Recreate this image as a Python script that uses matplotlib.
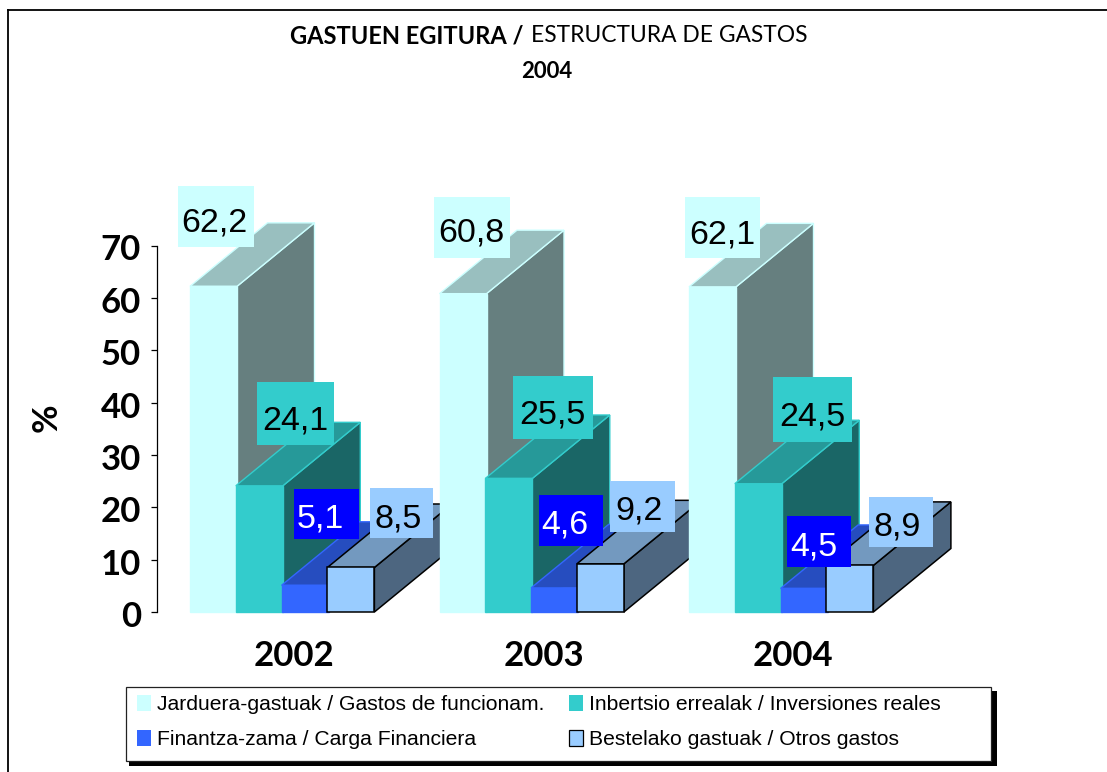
"""Recreates the GASTUEN EGITURA 3D column chart with matplotlib."""

import matplotlib

matplotlib.use("Agg")

import matplotlib.pyplot as plt
from matplotlib.lines import Line2D
from matplotlib.patches import Patch, Polygon, Rectangle
from matplotlib.transforms import IdentityTransform, ScaledTranslation

# -----------------------------
# 1. Chart data
# -----------------------------

YEARS = ["2002", "2003", "2004"]
SERIES_NAMES = [
    "Jarduera-gastuak / Gastos de funcionam.",
    "Inbertsio errealak / Inversiones reales",
    "Finantza-zama / Carga Financiera",
    "Bestelako gastuak / Otros gastos",
]
FUNCIONAMIENTO = [62.2, 60.8, 62.1]
INVERSIONES = [24.1, 25.5, 24.5]
FINANCIERA = [5.1, 4.6, 4.5]
OTROS = [8.5, 9.2, 8.9]
Y_TICKS = [0, 10, 20, 30, 40, 50, 60, 70]

# -----------------------------
# 2. Layout and colours
# -----------------------------

WIDTH, HEIGHT = 1107, 772

# Pixel layout of the plot area (y measured from the top of the image).
AXIS_LEFT, AXIS_RIGHT = 157, 1000
AXIS_BOTTOM, AXIS_TOP = 612, 245.5
FIRST_GROUP_PX = 294
GROUP_STEP_PX = 249.5
BAR_START_PX = -104
BAR_STEP_PX = 45.8
BAR_WIDTH_PX = 47
DEPTH_X_PX = 77.5
DEPTH_Y_PX = 63.5

# front, top, side, edge, edge width
SERIES_STYLES = [
    ("#CCFFFF", "#99BFBF", "#667F7F", "#CCFFFF", 1.0),
    ("#33CCCC", "#269999", "#1A6666", "#33CCCC", 1.0),
    ("#3366FF", "#264DBF", "#1A3380", "#3366FF", 1.0),
    ("#99CCFF", "#7399BF", "#4D6680", "#000000", 1.1),
]

# Value label boxes in pixels: left, top, right, bottom, text centre x, digit centre y.
LABEL_BOXES = [
    [(178, 186, 254, 247, 214, 220), (434, 197, 510, 258, 471, 230), (685, 197, 760, 258, 722, 231)],
    [(257, 382, 334, 445, 295, 417), (513, 376, 593, 439, 552, 412), (773, 377, 852, 442, 812, 413)],
    [(294, 489, 359, 539, 320, 515), (539, 495, 603, 546, 565, 522), (787, 516, 851, 567, 814, 543)],
    [(370, 488, 433, 538, 398, 515), (610, 481, 675, 532, 639, 508), (869, 497, 933, 547, 897, 523)],
]
LABEL_COLORS = [
    ("#CCFFFF", "black"),
    ("#33CCCC", "black"),
    ("#0000FF", "white"),
    ("#99CCFF", "black"),
]

HEADING_FONT = "Lato"
BODY_FONT = "Liberation Sans"


def px_rect(ax, left, top, right, bottom, zorder, **style):
    """Add a rectangle given in image pixels."""
    rect = Rectangle(
        (left, HEIGHT - bottom), right - left, bottom - top,
        transform=IdentityTransform(), clip_on=False, zorder=zorder, **style,
    )
    ax.add_patch(rect)


def draw_bar(ax, x0, width, value, depth_x, depth_y, style, zorder):
    """Draw one fake-3D column: side and top polygons, then the front bar."""
    front, top, side, edge, edge_width = style
    x1 = x0 + width

    side_points = [(x1, 0), (x1 + depth_x, depth_y), (x1 + depth_x, value + depth_y), (x1, value)]
    top_points = [(x0, value), (x1, value), (x1 + depth_x, value + depth_y), (x0 + depth_x, value + depth_y)]

    ax.add_patch(Polygon(side_points, facecolor=side, edgecolor=edge, linewidth=edge_width,
                         clip_on=False, zorder=zorder))
    ax.add_patch(Polygon(top_points, facecolor=top, edgecolor=edge, linewidth=edge_width,
                         clip_on=False, zorder=zorder))
    ax.bar(x0, value, width=width, align="edge", color=front, edgecolor=edge,
           linewidth=edge_width, clip_on=False, zorder=zorder)


def main() -> None:
    fig = plt.figure(figsize=(WIDTH / 100, HEIGHT / 100), dpi=100, facecolor="white")
    ax = fig.add_axes([
        AXIS_LEFT / WIDTH,
        1 - AXIS_BOTTOM / HEIGHT,
        (AXIS_RIGHT - AXIS_LEFT) / WIDTH,
        (AXIS_BOTTOM - AXIS_TOP) / HEIGHT,
    ])
    ax.patch.set_visible(False)

    x_min = (AXIS_LEFT - FIRST_GROUP_PX) / GROUP_STEP_PX
    x_max = (AXIS_RIGHT - FIRST_GROUP_PX) / GROUP_STEP_PX
    ax.set_xlim(x_min, x_max)
    ax.set_ylim(0, 70)

    px_per_value = (AXIS_BOTTOM - AXIS_TOP) / 70
    depth_x = DEPTH_X_PX / GROUP_STEP_PX
    depth_y = DEPTH_Y_PX / px_per_value

    # Painter's order: left to right, so each column covers the one before it.
    all_series = [FUNCIONAMIENTO, INVERSIONES, FINANCIERA, OTROS]
    zorder = 3
    for group in range(len(YEARS)):
        for s, values in enumerate(all_series):
            x0 = group + (BAR_START_PX + s * BAR_STEP_PX) / GROUP_STEP_PX
            draw_bar(ax, x0, BAR_WIDTH_PX / GROUP_STEP_PX, values[group],
                     depth_x, depth_y, SERIES_STYLES[s], zorder)
            zorder += 1

    # Value labels sit over every column.
    for s, values in enumerate(all_series):
        box_color, text_color = LABEL_COLORS[s]
        for group, value in enumerate(values):
            left, top, right, bottom, text_x, text_y = LABEL_BOXES[s][group]
            px_rect(ax, left, top, right, bottom, 30, facecolor=box_color, edgecolor="none")
            ax.text(text_x, HEIGHT - text_y - 12, f"{value:.1f}".replace(".", ","),
                    transform=IdentityTransform(), ha="center", va="baseline",
                    fontsize=24.5, family=BODY_FONT, color=text_color, zorder=31, clip_on=False)

    # Axes
    for name in ("top", "right", "bottom"):
        ax.spines[name].set_visible(False)
    ax.spines["left"].set_linewidth(0.9)
    ax.set_yticks(Y_TICKS)
    ax.set_xticks(range(len(YEARS)))
    ax.set_xticklabels(YEARS, fontsize=25, fontweight="bold", family=HEADING_FONT)
    ax.tick_params(axis="x", length=0, pad=20)
    ax.tick_params(axis="y", length=4, width=0.9, pad=7.5)
    # The reference tick numbers sit a little below their tick marks.
    nudge = ScaledTranslation(0, -2 / 100, fig.dpi_scale_trans)
    for label in ax.get_yticklabels():
        label.set_fontsize(25)
        label.set_fontweight("bold")
        label.set_family(HEADING_FONT)
        label.set_transform(label.get_transform() + nudge)

    ax.set_ylabel("%", fontsize=25, fontweight="bold", family=HEADING_FONT)
    ax.yaxis.set_label_coords((63 - AXIS_LEFT) / (AXIS_RIGHT - AXIS_LEFT),
                              (AXIS_BOTTOM - 418) / (AXIS_BOTTOM - AXIS_TOP))

    # Title
    fig.text(524 / WIDTH, 1 - 36 / HEIGHT, "GASTUEN EGITURA /", ha="right", va="center",
             fontsize=17, fontweight="bold", family=HEADING_FONT)
    fig.text(531 / WIDTH, 1 - 36 / HEIGHT, "ESTRUCTURA DE GASTOS", ha="left", va="center",
             fontsize=16.4, family=HEADING_FONT)
    fig.text(547 / WIDTH, 1 - 72 / HEIGHT, "2004", ha="center", va="center",
             fontsize=16, fontweight="bold", family=HEADING_FONT)

    # Outer frame, open at the right and bottom.
    fig.add_artist(Line2D([8 / WIDTH, 8 / WIDTH], [0, 1 - 10 / HEIGHT], color="black", linewidth=1.3))
    fig.add_artist(Line2D([8 / WIDTH, 1], [1 - 10 / HEIGHT, 1 - 10 / HEIGHT], color="black", linewidth=1.3))

    # Legend box with its hard shadow.
    px_rect(ax, 129, 691, 997, 766, 40, facecolor="black", edgecolor="none")
    px_rect(ax, 126, 687, 991, 761, 41, facecolor="white", edgecolor="#222222", linewidth=0.9)

    handles = []
    for name, style in zip(SERIES_NAMES, SERIES_STYLES):
        edge = "black" if style[3] == "#000000" else "none"
        handles.append(Patch(facecolor=style[0], edgecolor=edge, linewidth=0.9, label=name))
    # Column-first fill keeps the reading order of the original two rows.
    order = [0, 2, 1, 3]
    legend = ax.legend(
        [handles[i] for i in order], [SERIES_NAMES[i] for i in order],
        ncols=2, frameon=False, loc="upper left",
        bbox_to_anchor=(134 / WIDTH, 1 - 692 / HEIGHT), bbox_transform=fig.transFigure,
        prop={"family": BODY_FONT, "size": 15.2},
        handlelength=0.67, handleheight=0.75, handletextpad=0.29,
        columnspacing=1.15, labelspacing=0.76, borderpad=0.15, borderaxespad=0,
    )
    legend.set_zorder(42)

    fig.savefig("out.png", dpi=100, facecolor="white")


if __name__ == "__main__":
    main()
